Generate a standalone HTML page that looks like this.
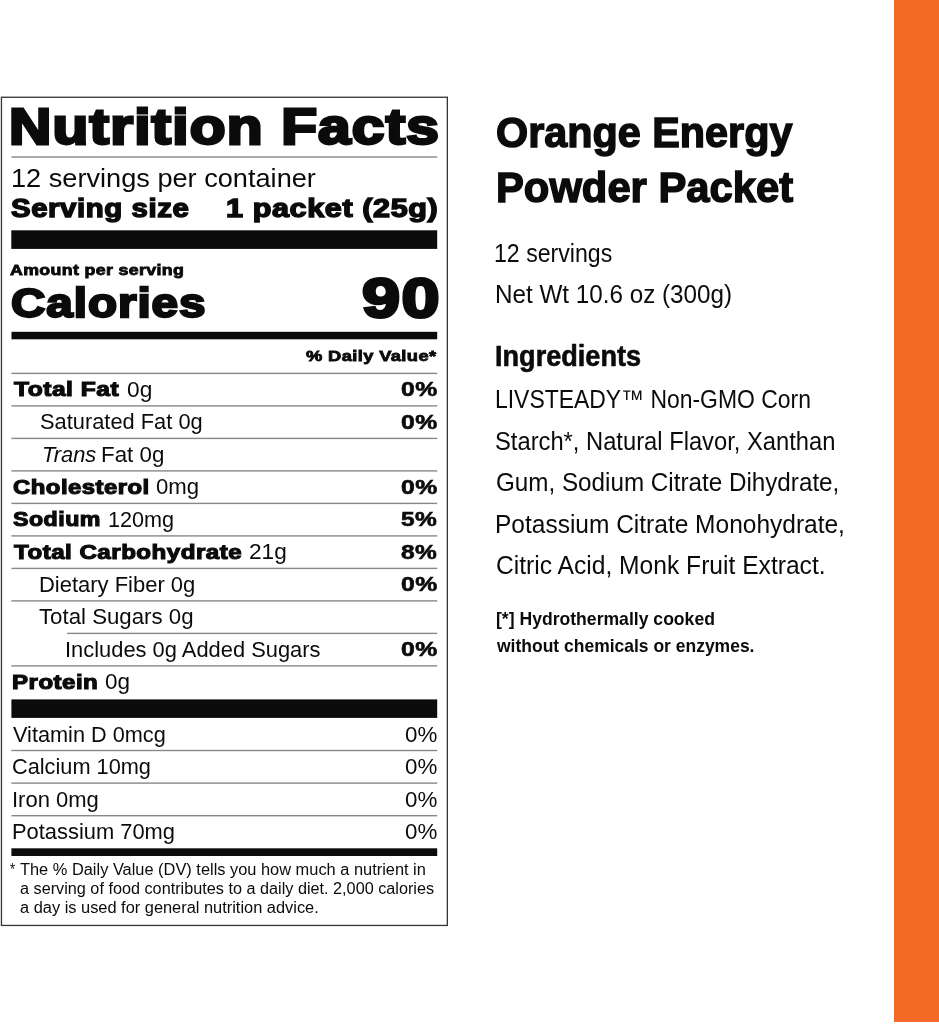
<!DOCTYPE html>
<html><head><meta charset="utf-8"><title>Nutrition Facts</title>
<style>
html,body{margin:0;padding:0;background:#fff;}
body{width:939px;height:1024px;position:relative;overflow:hidden;font-family:"Liberation Sans",sans-serif;color:#0b0b0b;}
.t{position:absolute;white-space:nowrap;transform-origin:0 0;margin:0;padding:0;}
.r{position:absolute;}
#wrap{position:absolute;left:0;top:0;width:939px;height:1024px;will-change:transform;}
#rules{position:absolute;left:0;top:0;}
#bar{position:absolute;left:894px;top:0;width:45px;height:1021.5px;background:#f26a25;}
</style></head><body>
<div id="bar"></div>
<div id="wrap">
<svg id="rules" width="939" height="1024" viewBox="0 0 939 1024">
<rect x="1.45" y="97.25" width="445.9" height="828.2" fill="none" stroke="#333" stroke-width="1.3"/>
<rect x="11.40" y="156.30" width="425.80" height="1.40" fill="#888"/>
<rect x="11.30" y="230.30" width="425.90" height="18.60" fill="#0b0b0b"/>
<rect x="11.50" y="331.80" width="425.70" height="7.50" fill="#0b0b0b"/>
<rect x="11.40" y="372.70" width="425.80" height="1.40" fill="#888"/>
<rect x="11.40" y="405.20" width="425.80" height="1.40" fill="#888"/>
<rect x="11.40" y="437.70" width="425.80" height="1.40" fill="#888"/>
<rect x="11.40" y="470.20" width="425.80" height="1.40" fill="#888"/>
<rect x="11.40" y="502.70" width="425.80" height="1.40" fill="#888"/>
<rect x="11.40" y="535.20" width="425.80" height="1.40" fill="#888"/>
<rect x="11.40" y="567.70" width="425.80" height="1.40" fill="#888"/>
<rect x="11.40" y="600.20" width="425.80" height="1.40" fill="#888"/>
<rect x="67.00" y="632.70" width="370.20" height="1.40" fill="#888"/>
<rect x="11.40" y="665.20" width="425.80" height="1.40" fill="#888"/>
<rect x="11.40" y="699.40" width="425.80" height="18.50" fill="#0b0b0b"/>
<rect x="11.40" y="749.80" width="425.80" height="1.40" fill="#888"/>
<rect x="11.40" y="782.40" width="425.80" height="1.40" fill="#888"/>
<rect x="11.40" y="815.00" width="425.80" height="1.40" fill="#888"/>
<rect x="11.40" y="848.30" width="425.80" height="7.70" fill="#0b0b0b"/>
</svg>
<div class="t" style="left:9.00px;top:103px;font-size:49.56px;line-height:49.56px;transform:scaleX(1.1829);font-weight:700;-webkit-text-stroke:2.8px #0b0b0b;letter-spacing:0.99px;">Nutrition Facts</div>
<div class="t" style="left:11.00px;top:166px;font-size:25.87px;line-height:25.87px;transform:scaleX(1.0500);">12 servings per container</div>
<div class="t" style="left:11.00px;top:196px;font-size:25.0px;line-height:25.0px;transform:scaleX(1.1745);font-weight:700;-webkit-text-stroke:1.4px #0b0b0b;letter-spacing:0.50px;">Serving size</div>
<div class="t" style="left:226.00px;top:196px;font-size:25.0px;line-height:25.0px;transform:scaleX(1.2225);font-weight:700;-webkit-text-stroke:1.4px #0b0b0b;letter-spacing:0.50px;">1 packet (25g)</div>
<div class="t" style="left:10.00px;top:263px;font-size:14.39px;line-height:14.39px;transform:scaleX(1.2347);font-weight:700;-webkit-text-stroke:0.8px #0b0b0b;letter-spacing:0.29px;">Amount per serving</div>
<div class="t" style="left:11.00px;top:282px;font-size:41.43px;line-height:41.43px;transform:scaleX(1.1491);font-weight:700;-webkit-text-stroke:2.3px #0b0b0b;letter-spacing:0.83px;">Calories</div>
<div class="t" style="left:362.00px;top:271px;font-size:55.52px;line-height:55.52px;transform:scaleX(1.2328);font-weight:700;-webkit-text-stroke:3.0px #0b0b0b;letter-spacing:1.11px;">90</div>
<div class="t" style="left:306.00px;top:349px;font-size:14.83px;line-height:14.83px;transform:scaleX(1.2356);font-weight:700;-webkit-text-stroke:0.8px #0b0b0b;letter-spacing:0.30px;">% Daily Value*</div>
<div class="t" style="left:14.00px;top:380px;font-size:19.62px;line-height:19.62px;transform:scaleX(1.2550);font-weight:700;-webkit-text-stroke:1.1px #0b0b0b;letter-spacing:0.39px;">Total Fat</div>
<div class="t" style="left:127.00px;top:379px;font-size:21.95px;line-height:21.95px;transform:scaleX(1.0366);">0g</div>
<div class="t" style="left:401.00px;top:379px;font-size:20.35px;line-height:20.35px;transform:scaleX(1.2148);font-weight:700;-webkit-text-stroke:0.6px #0b0b0b;letter-spacing:0.41px;">0%</div>
<div class="t" style="left:40.00px;top:411px;font-size:21.95px;line-height:21.95px;transform:scaleX(0.9955);">Saturated Fat 0g</div>
<div class="t" style="left:401.00px;top:412px;font-size:20.35px;line-height:20.35px;transform:scaleX(1.2148);font-weight:700;-webkit-text-stroke:0.6px #0b0b0b;letter-spacing:0.41px;">0%</div>
<div class="t" style="left:42.00px;top:444px;font-size:21.95px;line-height:21.95px;transform:scaleX(0.9967);font-style:italic;">Trans</div>
<div class="t" style="left:101.00px;top:444px;font-size:21.95px;line-height:21.95px;transform:scaleX(1.0180);">Fat 0g</div>
<div class="t" style="left:13.00px;top:478px;font-size:19.62px;line-height:19.62px;transform:scaleX(1.2188);font-weight:700;-webkit-text-stroke:1.1px #0b0b0b;letter-spacing:0.39px;">Cholesterol</div>
<div class="t" style="left:156.00px;top:476px;font-size:21.95px;line-height:21.95px;transform:scaleX(1.0096);">0mg</div>
<div class="t" style="left:401.00px;top:477px;font-size:20.35px;line-height:20.35px;transform:scaleX(1.2148);font-weight:700;-webkit-text-stroke:0.6px #0b0b0b;letter-spacing:0.41px;">0%</div>
<div class="t" style="left:13.00px;top:510px;font-size:19.62px;line-height:19.62px;transform:scaleX(1.1838);font-weight:700;-webkit-text-stroke:1.1px #0b0b0b;letter-spacing:0.39px;">Sodium</div>
<div class="t" style="left:108.00px;top:509px;font-size:21.95px;line-height:21.95px;transform:scaleX(0.9858);">120mg</div>
<div class="t" style="left:401.00px;top:509px;font-size:20.35px;line-height:20.35px;transform:scaleX(1.2035);font-weight:700;-webkit-text-stroke:0.6px #0b0b0b;letter-spacing:0.41px;">5%</div>
<div class="t" style="left:14.00px;top:543px;font-size:19.62px;line-height:19.62px;transform:scaleX(1.2309);font-weight:700;-webkit-text-stroke:1.1px #0b0b0b;letter-spacing:0.39px;">Total Carbohydrate</div>
<div class="t" style="left:249.00px;top:541px;font-size:21.95px;line-height:21.95px;transform:scaleX(1.0324);">21g</div>
<div class="t" style="left:401.00px;top:542px;font-size:20.35px;line-height:20.35px;transform:scaleX(1.2035);font-weight:700;-webkit-text-stroke:0.6px #0b0b0b;letter-spacing:0.41px;">8%</div>
<div class="t" style="left:39.00px;top:574px;font-size:21.95px;line-height:21.95px;transform:scaleX(1.0015);">Dietary Fiber 0g</div>
<div class="t" style="left:401.00px;top:574px;font-size:20.35px;line-height:20.35px;transform:scaleX(1.2148);font-weight:700;-webkit-text-stroke:0.6px #0b0b0b;letter-spacing:0.41px;">0%</div>
<div class="t" style="left:39.00px;top:606px;font-size:21.95px;line-height:21.95px;transform:scaleX(1.0140);">Total Sugars 0g</div>
<div class="t" style="left:65.00px;top:639px;font-size:21.95px;line-height:21.95px;transform:scaleX(0.9974);">Includes 0g Added Sugars</div>
<div class="t" style="left:401.00px;top:639px;font-size:20.35px;line-height:20.35px;transform:scaleX(1.2148);font-weight:700;-webkit-text-stroke:0.6px #0b0b0b;letter-spacing:0.41px;">0%</div>
<div class="t" style="left:12.00px;top:673px;font-size:19.62px;line-height:19.62px;transform:scaleX(1.2277);font-weight:700;-webkit-text-stroke:1.1px #0b0b0b;letter-spacing:0.39px;">Protein</div>
<div class="t" style="left:105.00px;top:671px;font-size:21.95px;line-height:21.95px;transform:scaleX(1.0247);">0g</div>
<div class="t" style="left:13.00px;top:724px;font-size:21.95px;line-height:21.95px;transform:scaleX(0.9892);">Vitamin D 0mcg</div>
<div class="t" style="left:405.00px;top:724px;font-size:21.95px;line-height:21.95px;transform:scaleX(1.0188);">0%</div>
<div class="t" style="left:12.00px;top:756px;font-size:21.95px;line-height:21.95px;transform:scaleX(0.9910);">Calcium 10mg</div>
<div class="t" style="left:405.00px;top:756px;font-size:21.95px;line-height:21.95px;transform:scaleX(1.0188);">0%</div>
<div class="t" style="left:12.00px;top:789px;font-size:21.95px;line-height:21.95px;transform:scaleX(1.0031);">Iron 0mg</div>
<div class="t" style="left:405.00px;top:789px;font-size:21.95px;line-height:21.95px;transform:scaleX(1.0188);">0%</div>
<div class="t" style="left:12.00px;top:821px;font-size:21.95px;line-height:21.95px;transform:scaleX(0.9976);">Potassium 70mg</div>
<div class="t" style="left:405.00px;top:821px;font-size:21.95px;line-height:21.95px;transform:scaleX(1.0188);">0%</div>
<div class="t" style="left:10.00px;top:862px;font-size:15.84px;line-height:15.84px;transform:scaleX(0.8065);">*</div>
<div class="t" style="left:20.00px;top:862px;font-size:15.84px;line-height:15.84px;transform:scaleX(1.0352);">The % Daily Value (DV) tells you how much a nutrient in</div>
<div class="t" style="left:20.00px;top:881px;font-size:15.84px;line-height:15.84px;transform:scaleX(1.0254);">a serving of food contributes to a daily diet. 2,000 calories</div>
<div class="t" style="left:20.00px;top:900px;font-size:15.84px;line-height:15.84px;transform:scaleX(1.0352);">a day is used for general nutrition advice.</div>
<div class="t" style="left:496.00px;top:111px;font-size:43.17px;line-height:43.17px;transform:scaleX(0.9580);font-weight:700;-webkit-text-stroke:1.5px #0b0b0b;">Orange Energy</div>
<div class="t" style="left:496.00px;top:166px;font-size:43.17px;line-height:43.17px;transform:scaleX(0.9679);font-weight:700;-webkit-text-stroke:1.5px #0b0b0b;">Powder Packet</div>
<div class="t" style="left:494.00px;top:241px;font-size:25.0px;line-height:25.0px;transform:scaleX(0.9247);">12 servings</div>
<div class="t" style="left:495.00px;top:282px;font-size:25.15px;line-height:25.15px;transform:scaleX(0.9638);">Net Wt 10.6 oz (300g)</div>
<div class="t" style="left:495.00px;top:342px;font-size:28.92px;line-height:28.92px;transform:scaleX(0.9376);font-weight:700;-webkit-text-stroke:0.6px #0b0b0b;">Ingredients</div>
<div class="t" style="left:495.00px;top:387px;font-size:25.58px;line-height:25.58px;transform:scaleX(0.8963);">LIVSTEADY™ Non-GMO Corn</div>
<div class="t" style="left:495.00px;top:429px;font-size:25.58px;line-height:25.58px;transform:scaleX(0.9280);">Starch*, Natural Flavor, Xanthan</div>
<div class="t" style="left:496.00px;top:470px;font-size:25.58px;line-height:25.58px;transform:scaleX(0.9471);">Gum, Sodium Citrate Dihydrate,</div>
<div class="t" style="left:495.00px;top:512px;font-size:25.58px;line-height:25.58px;transform:scaleX(0.9577);">Potassium Citrate Monohydrate,</div>
<div class="t" style="left:496.00px;top:553px;font-size:25.58px;line-height:25.58px;transform:scaleX(0.9622);">Citric Acid, Monk Fruit Extract.</div>
<div class="t" style="left:496.00px;top:610px;font-size:18.6px;line-height:18.6px;transform:scaleX(0.9459);font-weight:700;">[*] Hydrothermally cooked</div>
<div class="t" style="left:497.00px;top:637px;font-size:18.6px;line-height:18.6px;transform:scaleX(0.9403);font-weight:700;">without chemicals or enzymes.</div>
</div>
</body></html>
